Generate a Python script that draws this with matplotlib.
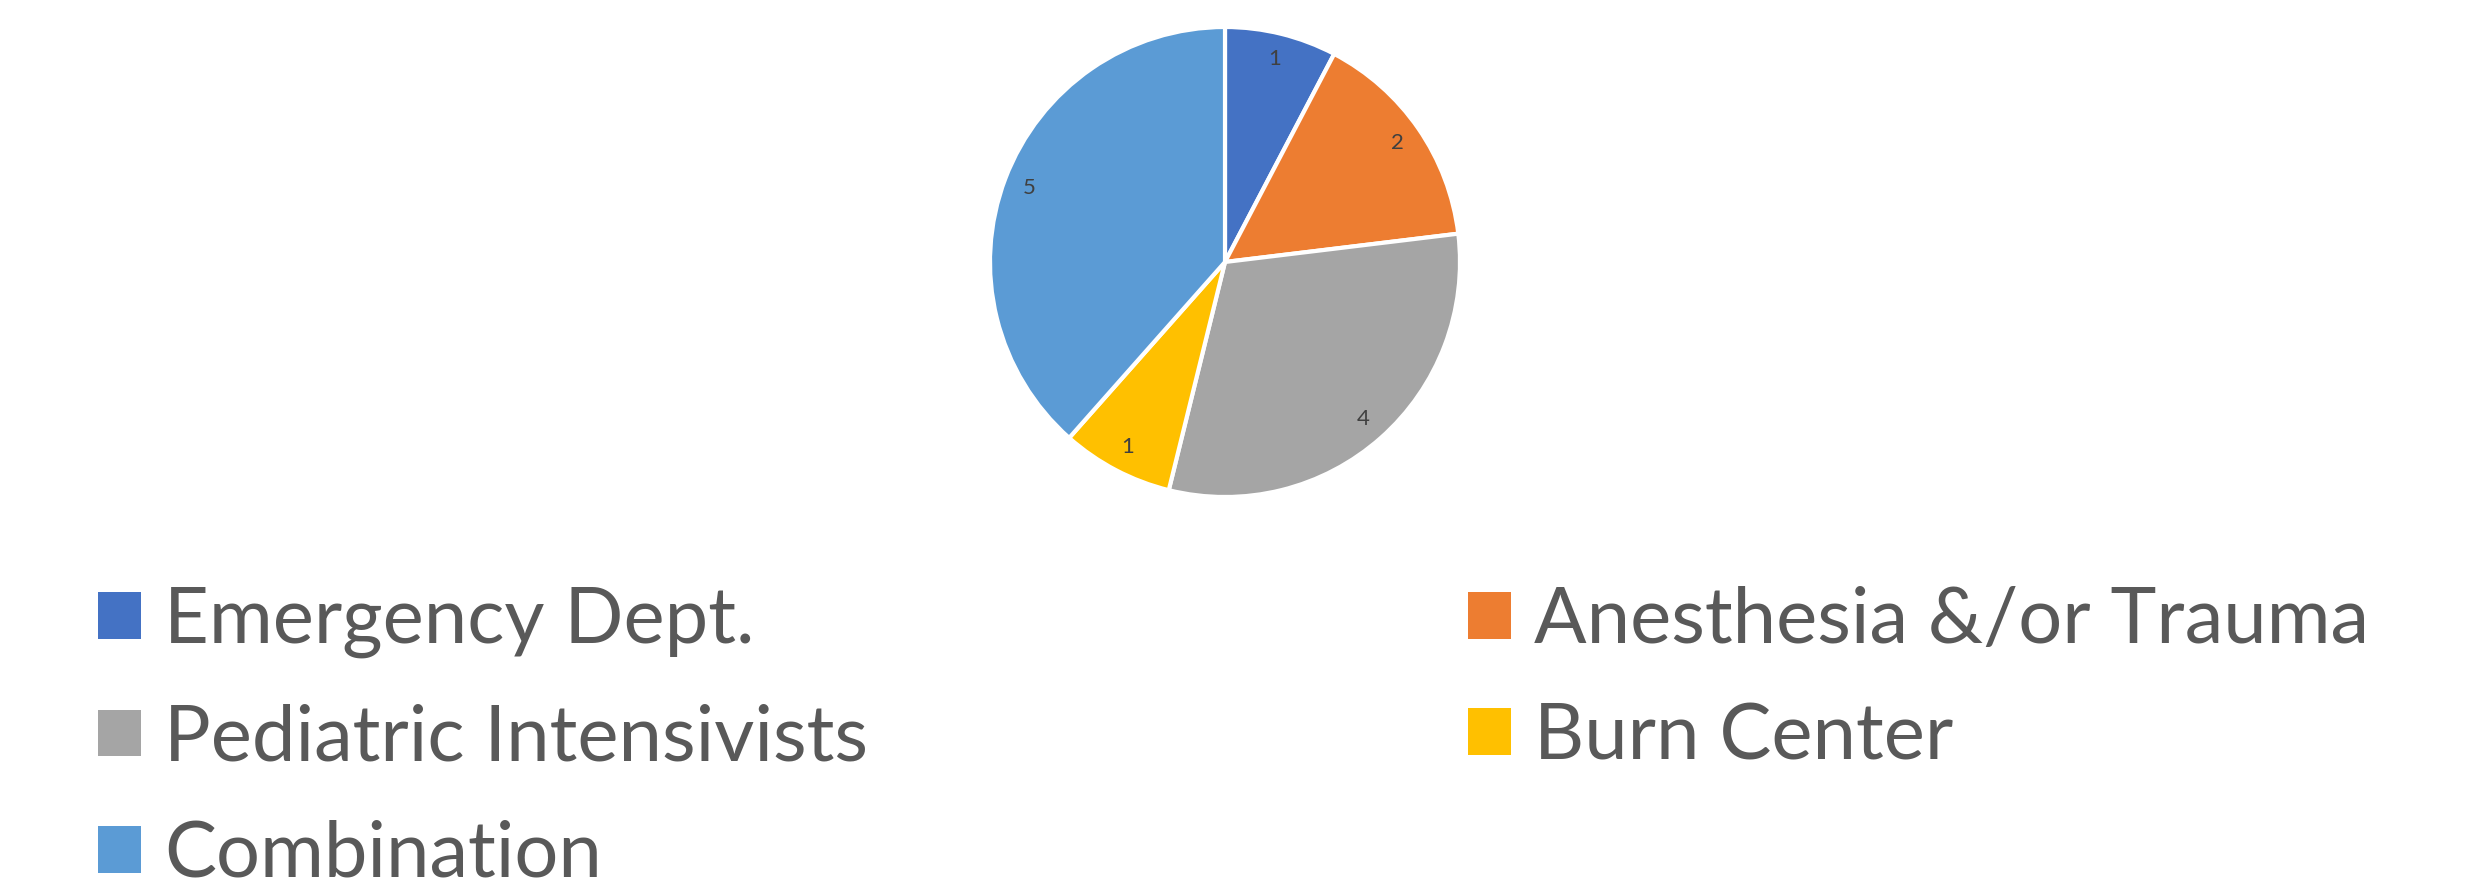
import matplotlib
matplotlib.use("Agg")
import matplotlib.pyplot as plt
from matplotlib.patches import Patch

# chart data
categories = ["Emergency Dept.", "Anesthesia &/or Trauma", "Pediatric Intensivists",
              "Burn Center", "Combination"]
counts = [1, 2, 4, 1, 5]
colors = ["#4472C4", "#ED7D31", "#A5A5A5", "#FFC000", "#5B9BD5"]

TEXT_COLOR = "#595959"
plt.rcParams["font.family"] = ["Lato", "DejaVu Sans"]

W, H, DPI = 2477, 892, 100
fig = plt.figure(figsize=(W / DPI, H / DPI), dpi=DPI)

# pie area: centre (1225, 262) px, radius 235 px
cx, cy, r = 1225, 262, 235
ax = fig.add_axes([(cx - r) / W, (H - cy - r) / H, 2 * r / W, 2 * r / H])
wedges, texts = ax.pie(
    counts, colors=colors, startangle=90, counterclock=False,
    labels=[str(c) for c in counts], labeldistance=0.89,
    wedgeprops=dict(edgecolor="white", linewidth=3),
    textprops=dict(color="#404040", fontsize=16, ha="center", va="center"),
)
for t in texts:
    t.set_horizontalalignment("center")
ax.set_xlim(-1, 1)
ax.set_ylim(-1, 1)
ax.set_aspect("equal")

# legend, laid out row-wise in two columns like the original
handles = [Patch(facecolor=c, edgecolor="none") for c in colors]
leg_kw = dict(frameon=False, fontsize=56, labelcolor=TEXT_COLOR,
              handlelength=0.55, handleheight=0.55, handletextpad=0.3,
              labelspacing=0.58, borderpad=0, borderaxespad=0)

left_idx = [0, 2, 4]
right_idx = [1, 3]
top = 1 - 586 / H
leg1 = fig.legend([handles[i] for i in left_idx], [categories[i] for i in left_idx],
                  loc="upper left", bbox_to_anchor=(98 / W, top), **leg_kw)
leg2 = fig.legend([handles[i] for i in right_idx], [categories[i] for i in right_idx],
                  loc="upper left", bbox_to_anchor=(1468 / W, top), **leg_kw)

fig.savefig("out.png", dpi=DPI, facecolor="white")
